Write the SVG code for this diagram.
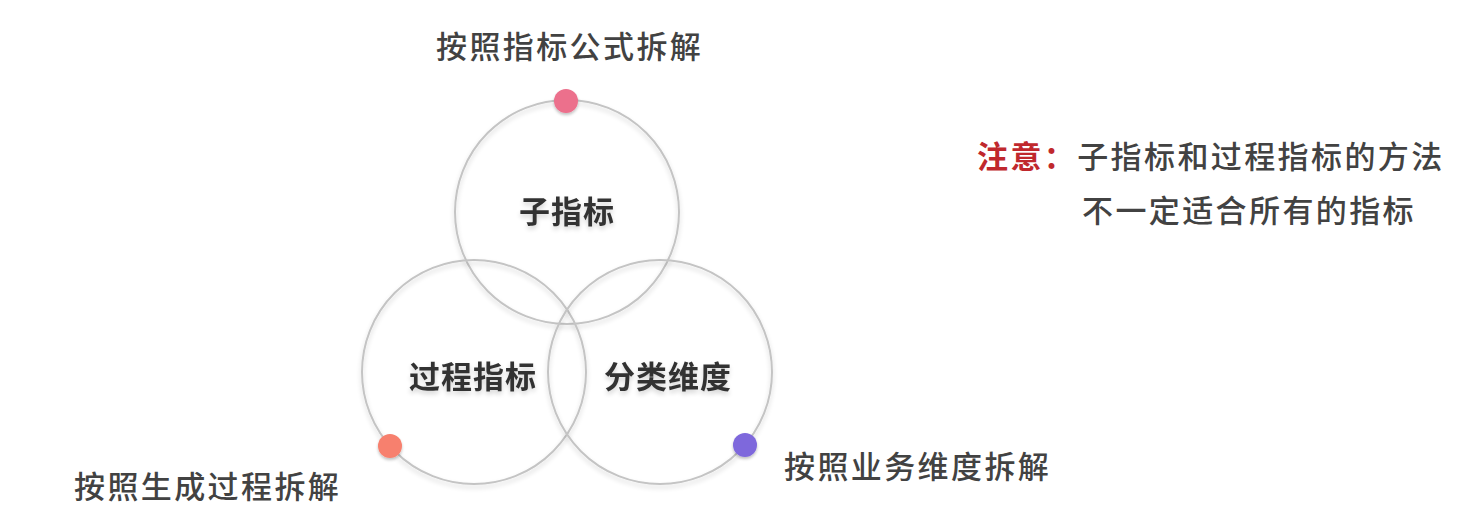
<svg xmlns="http://www.w3.org/2000/svg" width="1475" height="521" viewBox="0 0 1475 521">
  <defs>
    <filter id="soft" x="-20%" y="-20%" width="140%" height="140%">
      <feGaussianBlur in="SourceAlpha" stdDeviation="2.5"/>
      <feOffset dy="3" result="b"/>
      <feComponentTransfer><feFuncA type="linear" slope="0.18"/></feComponentTransfer>
      <feMerge><feMergeNode/><feMergeNode in="SourceGraphic"/></feMerge>
    </filter>
    <filter id="dotshadow" x="-50%" y="-50%" width="200%" height="200%">
      <feGaussianBlur in="SourceAlpha" stdDeviation="1.5"/>
      <feOffset dy="2"/>
      <feComponentTransfer><feFuncA type="linear" slope="0.25"/></feComponentTransfer>
      <feMerge><feMergeNode/><feMergeNode in="SourceGraphic"/></feMerge>
    </filter>
  </defs>
  <style>
    .ring { fill: none; stroke: #c4c4c4; stroke-width: 2; }
    .inner { font-family: "Noto Sans CJK SC", "Noto Sans", sans-serif; font-size: 31px; font-weight: 700; fill: #333333; text-anchor: middle; letter-spacing: 1px; }
    .outer { font-family: "Noto Sans CJK SC", "Noto Sans", sans-serif; font-size: 31px; font-weight: 500; fill: #424242; letter-spacing: 2.4px; }
    .note { font-family: "Noto Sans CJK SC", "Noto Sans", sans-serif; font-size: 31px; font-weight: 500; fill: #424242; letter-spacing: 2.4px; }
    .warn { fill: #c0282d; font-weight: 700; }
  </style>
  <rect width="1475" height="521" fill="#ffffff"/>

  <!-- three overlapping circles -->
  <g id="circle-sub" filter="url(#soft)">
    <circle class="ring" cx="567" cy="212" r="112"/>
    <text class="inner" x="567" y="223">子指标</text>
  </g>
  <g id="circle-process" filter="url(#soft)">
    <circle class="ring" cx="474" cy="372" r="112"/>
    <text class="inner" x="473" y="388">过程指标</text>
  </g>
  <g id="circle-dimension" filter="url(#soft)">
    <circle class="ring" cx="660" cy="372" r="112"/>
    <text class="inner" x="668" y="388">分类维度</text>
  </g>

  <!-- markers on the rims with their captions -->
  <g id="tag-formula">
    <circle cx="566" cy="101" r="12" fill="#ec6f8c" filter="url(#dotshadow)"/>
    <text class="outer" x="436" y="58">按照指标公式拆解</text>
  </g>
  <g id="tag-process">
    <circle cx="390" cy="446" r="12" fill="#f7806e" filter="url(#dotshadow)"/>
    <text class="outer" x="74" y="498">按照生成过程拆解</text>
  </g>
  <g id="tag-business">
    <circle cx="745" cy="445" r="12" fill="#7e68dc" filter="url(#dotshadow)"/>
    <text class="outer" x="784" y="478">按照业务维度拆解</text>
  </g>

  <!-- side note -->
  <g id="note">
    <text class="note" x="977" y="168"><tspan class="warn">注意：</tspan>子指标和过程指标的方法</text>
    <text class="note" x="1082" y="222">不一定适合所有的指标</text>
  </g>
</svg>
